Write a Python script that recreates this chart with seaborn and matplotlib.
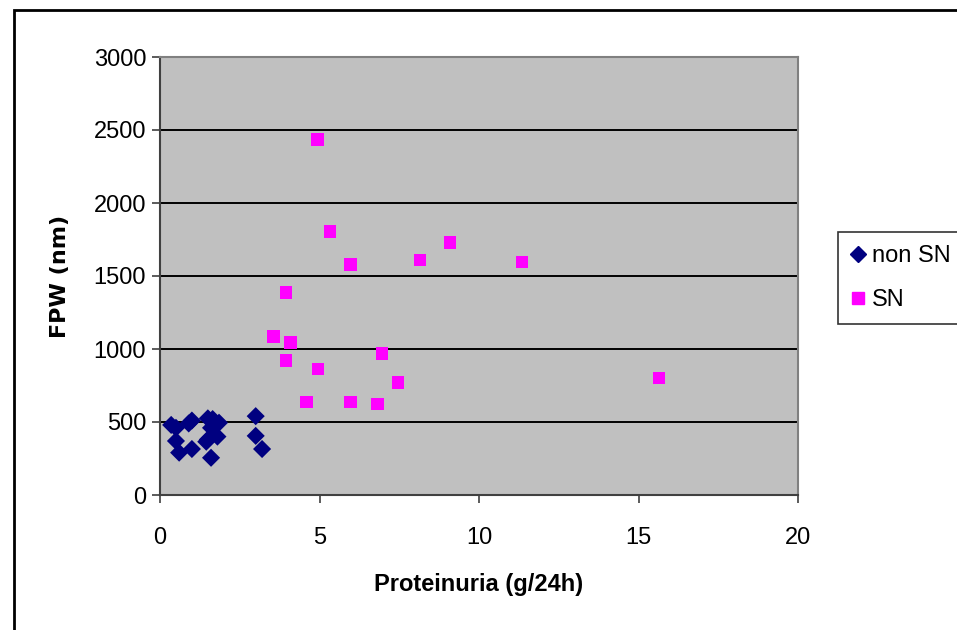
import pandas as pd
import matplotlib
matplotlib.use("Agg")
import matplotlib.pyplot as plt
import seaborn as sns
from matplotlib.patches import Rectangle
from matplotlib.lines import Line2D

# punkty
non_sn_x = [0.35, 0.5, 0.5, 0.6, 0.9, 1.0, 1.0, 1.45, 1.5, 1.6, 1.65, 1.7, 1.8, 1.85, 1.6, 1.5, 3.0, 3.0, 3.2]
non_sn_y = [480, 460, 370, 290, 490, 510, 315, 365, 525, 460, 520, 480, 400, 495, 255, 380, 540, 405, 315]

sn_x = [4.94, 5.33, 5.96, 8.15, 9.09, 11.35, 3.95, 3.57, 4.08, 3.95, 6.96, 4.95, 7.46, 4.58, 5.96, 6.83, 15.64]
sn_y = [2436, 1806, 1580, 1610, 1730, 1596, 1386, 1087, 1043, 922, 968, 863, 772, 637, 637, 623, 801]

x_ticks = [0, 5, 10, 15, 20]
y_ticks = [0, 500, 1000, 1500, 2000, 2500, 3000]

df = pd.concat([
    pd.DataFrame({'x': non_sn_x, 'y': non_sn_y, 'grupa': 'non SN'}),
    pd.DataFrame({'x': sn_x, 'y': sn_y, 'grupa': 'SN'}),
], ignore_index=True)

sns.set_theme(style="white")
plt.rcParams['font.family'] = ['Liberation Sans', 'DejaVu Sans']
plt.rcParams['text.color'] = 'black'
plt.rcParams['axes.labelcolor'] = 'black'
plt.rcParams['xtick.color'] = 'black'
plt.rcParams['ytick.color'] = 'black'

fig = plt.figure(figsize=(9.57, 6.3), dpi=100)
ax = fig.add_axes([160/957, 135/630, 638/957, 438/630])
ax.set_facecolor('#C0C0C0')

sns.scatterplot(data=df, x='x', y='y', hue='grupa', style='grupa',
                palette={'non SN': '#000080', 'SN': '#FF00FF'},
                markers={'non SN': 'D', 'SN': 's'},
                s=85, linewidth=0, ax=ax, legend=False, zorder=3)

ax.set_xlim(0, 20)
ax.set_ylim(0, 3000)
ax.set_xticks(x_ticks)
ax.set_yticks(y_ticks)
ax.tick_params(axis='both', labelsize=17, length=6, width=1.2,
               direction='out', left=True, bottom=True, labelcolor='black')
ax.tick_params(axis='x', pad=17, color='#404040')
ax.tick_params(axis='y', pad=4, color='#404040')

for y in y_ticks[1:-1]:
    ax.axhline(y, color='black', linewidth=1.4, zorder=1)

for side in ['top', 'right']:
    ax.spines[side].set_color('#808080')
    ax.spines[side].set_linewidth(1.5)
for side in ['left', 'bottom']:
    ax.spines[side].set_color('#404040')
    ax.spines[side].set_linewidth(1.5)

ax.set_xlabel('Proteinuria (g/24h)', fontsize=17, fontweight='bold', labelpad=17)
ax.set_ylabel('FPW (nm)', fontsize=16, fontweight='bold', family='DejaVu Sans', labelpad=17)

# legenda
handles = [Line2D([], [], marker='D', color='#000080', linestyle='', markersize=8),
           Line2D([], [], marker='s', color='#FF00FF', linestyle='', markersize=9)]
leg = fig.legend(handles, ['non SN', 'SN'], loc='upper left',
                 bbox_to_anchor=(838/957, 1 - 232/630), fontsize=17,
                 frameon=True, fancybox=False, edgecolor='black',
                 handlelength=0.6, handletextpad=0.3, borderpad=0.55,
                 labelspacing=0.95, borderaxespad=0)
leg.get_frame().set_linewidth(1.2)

# ramka wokol calego wykresu
fig.patches.append(Rectangle((14/957, -0.1), 1.2, 1 - 10/630 + 0.1,
                             transform=fig.transFigure, fill=False,
                             edgecolor='black', linewidth=2))

fig.savefig('out.png', dpi=100)
